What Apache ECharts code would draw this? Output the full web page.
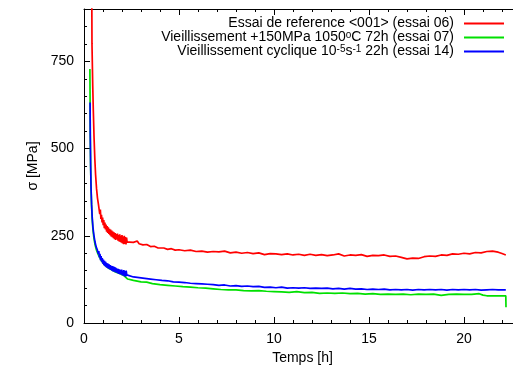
<!DOCTYPE html>
<html>
<head>
<meta charset="utf-8">
<script src="https://cdn.jsdelivr.net/npm/echarts@6/dist/echarts.min.js"></script>
<style>html,body{margin:0;padding:0;background:#fff}.c{position:absolute;left:0;top:0;width:513px;height:371px}</style>
</head>
<body>
<div class="c" id="frame"></div>
<div class="c" id="c"></div>
<script>
var seriesNames = [
  'Essai de reference <001> (essai 06)',
  'Vieillissement +150MPa 1050oC 72h (essai 07)',
  'Vieillissement cyclique 10-5s-1 22h (essai 14)'
];
var legendRich = [
  '{t|Essai de reference <001> (essai 06)}',
  '{t|Vieillissement +150MPa 1050}{s|o}{t|C 72h (essai 07)}',
  '{t|Vieillissement cyclique 10}{s|-5}{t|s}{s|-1}{t| 22h (essai 14)}'
];
var yTicks = [0, 250, 500, 750];

// essai 06 : [temps h, sigma MPa]
var redData = [
  [0.40,1100],[0.42,800],[0.46,680],[0.49,610],[0.53,530],[0.57,470],[0.61,425],[0.66,385],[0.71,358],[0.76,340],
  [0.80,340],[0.83,312],[0.86,325],[0.89,298],[0.92,310],[0.95,288],[0.98,302],[1.01,280],[1.04,295],[1.07,272],
  [1.10,288],[1.13,268],[1.16,282],[1.19,262],[1.22,278],[1.25,258],[1.28,274],[1.31,255],[1.34,270],[1.37,252],
  [1.40,268],[1.43,248],[1.46,265],[1.49,246],[1.52,262],[1.55,243],[1.58,260],[1.61,240],[1.64,258],[1.67,238],
  [1.70,255],[1.73,240],[1.76,256],[1.79,236],[1.82,252],[1.85,234],[1.88,254],[1.91,232],[1.94,250],[1.97,230],
  [2.00,252],[2.03,228],[2.06,248],[2.09,226],[2.12,250],[2.15,227],[2.18,246],[2.21,225],[2.24,245],[2.27,232],[2.30,236],
  [2.4,232],[2.5,228],[2.6,231],[2.7,226],[2.8,235],[2.9,227],[3.0,226],[3.1,224],[3.2,222],[3.3,225],[3.4,224],[3.5,219],
  [3.6,216],[3.7,220],[3.8,219],[3.9,215],[4.0,214],[4.2,215],[4.4,211],
  [4.6,213],[4.8,209],[5.0,210],[5.3,207],[5.6,209],[5.9,205],[6.2,206],[6.5,203],[6.8,205],[7.1,204],[7.4,206],
  [7.7,201],[8.0,203],[8.3,200],[8.6,202],[8.9,199],[9.2,201],[9.5,196],[9.8,199],[10.1,198],[10.4,196],[10.7,198],
  [11.0,195],[11.3,197],[11.6,194],[11.9,197],[12.2,194],[12.5,196],[12.8,193],[13.1,195],[13.4,198],[13.7,192],
  [14.0,195],[14.3,194],[14.6,196],[14.9,191],[15.2,194],[15.5,193],[15.8,195],[16.1,191],[16.4,192],[16.7,188],
  [17.0,184],[17.3,186],[17.6,185],[17.9,190],[18.2,192],[18.5,191],[18.8,195],[19.1,194],[19.4,198],[19.7,197],
  [20.0,200],[20.3,198],[20.6,202],[20.9,201],[21.2,205],[21.5,206],[21.8,203],[22.0,199],[22.2,195]
];

// essai 07
var greenData = [
  [0.31,728],[0.32,640],[0.33,540],[0.35,450],[0.37,385],[0.40,335],[0.43,298],[0.47,268],[0.52,244],[0.58,225],
  [0.65,210],[0.75,196],[0.9,180],[1.05,168],[1.3,157],[1.6,148],[1.9,141],[2.1,136],[2.3,126],
  [2.6,122],[3.0,118],[3.3,117],[3.6,113],[4.0,110],[4.4,108],[4.8,106],[5.2,104],[5.6,103],[6.0,101],[6.4,100],
  [6.8,98],[7.2,96],[7.6,95],[8.0,95],[8.4,93],[8.8,92],[9.2,93],[9.6,91],[10.0,90],[10.4,89],[10.8,88],[11.2,90],
  [11.6,87],[12.0,88],[12.4,85],[12.8,86],[13.2,85],[13.6,86],[14.0,84],[14.4,85],[14.8,83],[15.2,84],[15.6,82],
  [16.0,83],[16.4,82],[16.8,83],[17.2,81],[17.6,83],[18.0,82],[18.4,83],[18.8,79],[19.2,82],[19.6,83],[20.0,82],
  [20.4,82],[20.8,84],[21.0,80],[21.2,78],[21.6,78],[22.0,78],[22.2,78],[22.21,45]
];

// essai 14
var blueData = [
  [0.32,632],[0.33,540],[0.35,450],[0.37,390],[0.40,340],[0.43,305],[0.47,275],[0.52,252],[0.58,232],[0.64,218],[0.70,210],
  [0.72,214],[0.75,198],[0.78,206],[0.81,188],[0.84,198],[0.87,180],[0.90,192],[0.93,176],[0.96,186],[0.99,170],
  [1.02,182],[1.05,166],[1.08,178],[1.11,163],[1.14,175],[1.17,160],[1.20,172],[1.23,158],[1.26,170],[1.29,156],
  [1.32,168],[1.35,154],[1.38,166],[1.41,152],[1.44,164],[1.47,150],[1.50,163],[1.53,148],[1.56,162],[1.59,147],
  [1.62,160],[1.65,146],[1.68,158],[1.71,144],[1.74,156],[1.77,143],[1.80,155],[1.83,141],[1.86,154],[1.89,140],
  [1.92,152],[1.95,139],[1.98,153],[2.01,137],[2.04,150],[2.07,136],[2.10,152],[2.13,134],[2.16,149],[2.19,133],
  [2.22,150],[2.25,138],[2.28,136],
  [2.35,135],[2.6,132],[2.9,130],[3.2,128],[3.5,126],[3.8,124],[4.1,122],[4.4,121],[4.7,118],[5.0,117],[5.3,116],
  [5.6,114],[5.9,113],[6.2,112],[6.5,111],[6.8,110],[7.1,108],[7.4,109],[7.7,106],[8.0,107],[8.3,105],[8.6,106],
  [8.9,104],[9.2,105],[9.5,102],[9.8,103],[10.1,101],[10.4,103],[10.7,100],[11.0,101],[11.3,100],[11.6,101],
  [11.9,99],[12.2,100],[12.5,99],[12.8,100],[13.1,98],[13.4,99],[13.7,97],[14.0,99],[14.3,97],[14.6,98],[14.9,96],
  [15.2,97],[15.5,96],[15.8,97],[16.1,95],[16.4,96],[16.7,95],[17.0,96],[17.3,94],[17.6,96],[17.9,95],[18.2,96],
  [18.5,95],[18.8,96],[19.1,94],[19.4,96],[19.7,95],[20.0,96],[20.3,95],[20.6,96],[20.9,94],[21.2,95],[21.5,96],
  [21.8,95],[22.2,95]
];

var colors = ['#ff0000', '#00e000', '#0000ff'];
var FONT = '"Liberation Sans", Arial, sans-serif';
var XMAX = 23, YMAX = 900;
var GRID = { left: 84, top: 9, width: XMAX * 19, height: 314, outerBoundsMode: 'none' };

// ---- frame chart: border lines and inward ticks only ----
function fx(pos, interval, len, line) {
  return {
    type: 'value', position: pos, min: 0, max: XMAX, interval: interval,
    axisLine: { show: line, onZero: false, lineStyle: { color: '#000', width: 1 } },
    axisTick: { show: true, inside: true, length: len, lineStyle: { color: '#000', width: 1 } },
    axisLabel: { show: false }, splitLine: { show: false }
  };
}
function fy(interval, len, line) {
  return {
    type: 'value', position: 'left', min: 0, max: YMAX, interval: interval,
    axisLine: { show: line, onZero: false, lineStyle: { color: '#000', width: 1 } },
    axisTick: { show: true, inside: true, length: len, lineStyle: { color: '#000', width: 1 } },
    axisLabel: { show: false }, splitLine: { show: false }
  };
}
var frame = echarts.init(document.getElementById('frame'));
frame.setOption({
  animation: false,
  grid: GRID,
  xAxis: [fx('bottom', 5, 6, true), fx('bottom', 1, 3, false), fx('top', 5, 6, true), fx('top', 1, 3, false)],
  yAxis: [fy(250, 6, true), fy(50, 3, false)],
  series: [{ type: 'line', data: [], xAxisIndex: 0, yAxisIndex: 0 }]
});

// ---- main chart: data, labels, names, legend ----
function mk(i, data) {
  return {
    name: seriesNames[i], type: 'line', data: data, xAxisIndex: 0, yAxisIndex: 0,
    symbol: 'none', showSymbol: false, animation: false, clip: true,
    lineStyle: { color: colors[i], width: 1.7 }, itemStyle: { color: colors[i] }
  };
}
var chart = echarts.init(document.getElementById('c'));
chart.setOption({
  animation: false,
  backgroundColor: 'transparent',
  grid: GRID,
  xAxis: {
    type: 'value', min: 0, max: XMAX, interval: 5,
    axisLine: { show: false, onZero: false }, axisTick: { show: false }, splitLine: { show: false },
    axisLabel: { show: true, margin: 9, color: '#000', fontSize: 14, fontFamily: FONT },
    name: 'Temps [h]', nameLocation: 'middle', nameGap: 26,
    nameTextStyle: { color: '#000', fontSize: 14, fontFamily: FONT }
  },
  yAxis: {
    type: 'value', min: 0, max: YMAX, interval: 250,
    axisLine: { show: false, onZero: false }, axisTick: { show: false }, splitLine: { show: false },
    axisLabel: { show: true, margin: 10, color: '#000', fontSize: 14, fontFamily: FONT,
      formatter: function (v) { return yTicks.indexOf(v) >= 0 ? String(v) : ' '; } },
    name: 'σ [MPa]', nameLocation: 'middle', nameGap: 38,
    nameTextStyle: { color: '#000', fontSize: 14, fontFamily: FONT }
  },
  legend: {
    orient: 'vertical', right: 4, top: 11, align: 'right', itemGap: 0,
    itemWidth: 40, itemHeight: 8, icon: 'path://M0,0L40,0L40,2L0,2Z',
    data: seriesNames.map(function (n, i) { return { name: n, itemStyle: { color: colors[i] } }; }),
    formatter: function (name) { return legendRich[seriesNames.indexOf(name)]; },
    textStyle: {
      color: '#000', fontFamily: FONT, fontSize: 14,
      rich: {
        t: { fontSize: 14, fontFamily: FONT, color: '#000', lineHeight: 15, verticalAlign: 'top' },
        s: { fontSize: 10, fontFamily: FONT, color: '#000', lineHeight: 3, verticalAlign: 'top' }
      },
      padding: [0, 5, 0, 0]
    },
    selectedMode: false
  },
  series: [mk(0, redData), mk(1, greenData), mk(2, blueData)]
});
</script>
</body>
</html>
